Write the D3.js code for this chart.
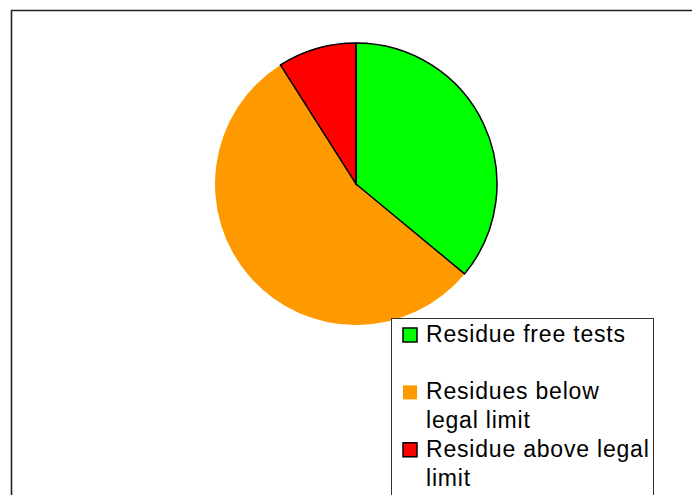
<!DOCTYPE html>
<html><head><meta charset="utf-8">
<script src="https://cdn.jsdelivr.net/npm/d3@7"></script>
<style>body{margin:0;background:#fff}svg{display:block}</style>
</head><body>
<svg id="c" width="692" height="495"></svg>
<script>
const categories = ["Residue free tests", "Residues below legal limit", "Residue above legal limit"];
const values = [36, 55, 9];
const colors = ["#00ff00", "#ff9900", "#ff0000"];
const strokes = ["#000", "none", "#000"];
const legendLines = [["Residue free tests"], ["Residues below", "legal limit"], ["Residue above legal", "limit"]];

const svg = d3.select("#c");
// frame
svg.append("path").attr("d", "M11.5,495V10.5H692").attr("fill", "none").attr("stroke", "#222").attr("stroke-width", 1.6);

const cx = 356, cy = 184, r = 141;
const pie = d3.pie().sort(null).value(d => d)(values);
const arc = d3.arc().innerRadius(0).outerRadius(r);
const g = svg.append("g").attr("transform", `translate(${cx},${cy})`);
const order = [1, 0, 2];
order.forEach(i => {
  g.append("path").attr("d", arc(pie[i])).attr("fill", colors[i])
    .attr("stroke", strokes[i]).attr("stroke-width", 1.5).attr("stroke-linejoin", "miter");
});

// legend
const lg = svg.append("g");
lg.append("rect").attr("x", 391.5).attr("y", 318.5).attr("width", 262).attr("height", 200)
  .attr("fill", "#fff").attr("stroke", "#333").attr("stroke-width", 1);
const lineH = 28.7;
const startLine = [0, 2, 4];
categories.forEach((c, i) => {
  const base = 342 + startLine[i] * lineH;
  lg.append("rect").attr("x", 403).attr("y", base - 14).attr("width", 14).attr("height", 14)
    .attr("fill", colors[i]).attr("stroke", strokes[i] === "none" ? "none" : "#000").attr("stroke-width", 1.5);
  legendLines[i].forEach((t, j) => {
    lg.append("text").attr("x", 426).attr("y", base + j * lineH).text(t)
      .attr("font-family", "Liberation Sans, Arial, sans-serif").attr("font-size", 23)
      .attr("letter-spacing", 0.8).attr("fill", "#000");
  });
});
</script>
</body></html>
